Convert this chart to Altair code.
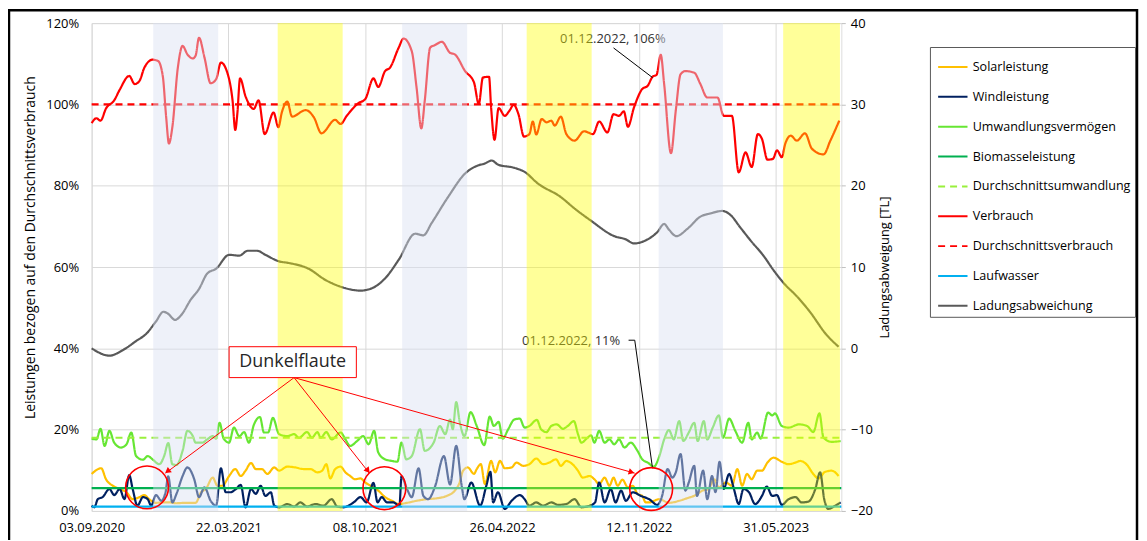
import altair as alt
import pandas as pd

START = pd.Timestamp("2020-09-03")
FONT = "Open Sans"

# ---------------- data (day offsets from 03.09.2020) ----------------
verbrauch_days = [0,7,13,21,33,41,55,63,70,77,89,97,104,109,113,118,126,133,140,148,
                  152,157,165,174,182,189,201,206,210,213,217,225,237,244,253,266,273,278,286,293,
                  313,325,336,356,364,373,390,400,412,419,429,436,449,456,468,475,482,487,495,502,
                  512,524,531,546,559,566,572,581,584,589,595,604,611,617,624,632,640,645,650,658,
                  665,672,677,686,694,706,720,733,742,754,763,771,778,784,793,805,813,820,826,832,
                  837,847,854,861,868,881,890,900,915,924,936,946,956,965,974,980,988,996,1002,1009,
                  1014,1022,1031,1043,1053,1070,1080,1093]
verbrauch_pct = [95.4,96.6,96.0,99.0,101.0,103.6,107.0,105.0,105.8,109.0,111.0,110.7,107.0,96.8,90.4,94.4,109.0,114.4,112.3,111.3,
                 112.0,116.4,111.5,105.2,106.2,110.3,106.2,101.0,93.7,97.7,106.4,102.0,98.9,101.0,92.7,98.0,94.4,98.0,100.7,97.0,
                 98.6,96.8,92.9,96.2,95.2,97.2,100.3,101.3,106.4,104.3,108.2,109.0,114.0,116.2,113.1,104.2,94.1,100.9,114.0,114.6,
                 115.4,112.7,112.3,108.2,105.4,100.1,106.6,106.8,99.3,91.3,99.1,97.2,98.5,99.9,97.6,92.1,92.7,95.8,92.6,96.4,
                 95.6,96.0,94.8,97.0,92.7,91.1,93.4,92.7,95.8,93.1,97.6,97.2,98.3,94.5,99.3,103.8,104.6,106.8,107.3,112.2,
                 105.0,88.0,98.5,107.4,108.2,107.8,105.0,101.7,101.7,97.2,97.2,83.3,88.2,84.6,92.7,91.5,86.4,86.6,88.7,87.0,
                 90.3,92.3,91.1,92.9,89.1,87.7,91.1,96.0]

ladung_days = [0,26,46,65,80,94,105,111,122,131,145,157,169,182,201,216,228,242,254,274,
               288,317,342,371,393,410,429,449,473,485,497,521,546,565,574,585,594,618,633,652,
               686,706,730,764,781,793,808,827,837,844,855,871,890,905,922,934,948,963,983,997,
               1012,1031,1050,1074,1092]
ladung_tl = [0.0,-0.9,-0.2,0.9,1.8,3.3,4.5,4.3,3.5,4.1,6.0,7.3,9.2,9.8,11.5,11.4,12.0,12.0,11.5,10.7,
             10.5,9.8,8.4,7.4,7.1,7.4,8.6,10.9,14.1,13.9,15.4,18.6,21.5,22.5,22.7,23.1,22.6,22.2,21.7,20.3,
             18.6,17.2,15.7,13.8,13.4,12.9,13.2,14.3,15.3,14.6,13.8,14.7,16.2,16.6,16.9,16.4,14.9,13.3,11.3,9.6,
             8.0,6.4,4.5,1.7,0.2]

umw_days = [0,7,13,19,26,33,43,51,58,65,75,82,89,99,106,112,118,124,133,140,
            148,152,162,169,177,182,187,193,201,208,216,223,230,237,246,252,258,265,274,286,
            296,303,315,322,330,335,343,351,364,371,378,388,397,405,413,419,429,439,447,453,
            460,468,480,487,500,509,517,524,528,533,538,545,554,563,574,582,588,595,601,609,
            618,626,633,640,651,657,665,672,680,689,696,705,711,716,725,730,735,742,750,757,
            764,771,779,788,798,805,813,822,830,837,844,851,859,865,873,881,886,895,900,908,
            917,923,932,941,951,960,965,973,978,989,995,999,1009,1019,1034,1046,1055,1064,1070,1082,
            1095]
umw_pct = [17.8,17.6,20.2,16.0,19.7,16.8,15.6,16.4,19.3,13.5,12.6,13.5,12.7,11.5,13.5,16.7,11.5,11.3,14.8,19.7,
           18.4,16.8,16.8,17.6,18.4,17.8,21.7,17.8,16.8,20.5,18.4,19.4,16.8,21.1,23.1,19.3,19.3,22.9,18.9,18.4,
           18.9,18.0,19.4,18.0,19.4,18.0,19.4,17.6,19.3,17.6,16.0,17.2,18.4,16.4,19.7,14.4,12.7,12.3,12.1,16.8,
           12.7,13.5,20.1,14.8,16.8,20.9,18.9,22.5,20.1,26.8,22.0,18.4,24.3,20.9,16.2,23.2,20.9,21.9,17.8,20.1,
           22.5,22.7,20.5,20.9,22.4,20.1,19.4,20.9,21.3,20.2,20.9,22.1,18.9,16.8,18.0,18.6,16.8,19.7,16.8,17.6,
           16.4,17.6,15.6,16.8,14.8,12.7,11.9,10.9,13.5,17.6,19.9,17.6,22.1,17.2,19.3,21.7,17.2,22.1,17.6,20.5,
           23.5,18.0,22.7,19.7,16.8,21.7,17.6,19.3,17.8,24.2,23.5,24.0,20.9,20.5,21.3,20.9,19.4,24.0,18.0,17.0,
           17.2]

solar_days = [0,14,21,31,41,51,60,70,77,84,94,104,114,123,138,152,160,167,177,184,
              191,201,210,218,225,233,240,249,257,267,274,286,298,310,320,330,337,343,349,356,
              364,371,378,385,393,400,410,419,429,439,449,461,475,490,504,519,531,538,543,550,
              559,563,569,575,584,590,597,604,614,621,631,640,650,660,669,679,686,694,703,711,
              718,728,735,742,750,757,763,769,776,784,791,798,805,810,815,830,844,859,870,883,
              893,902,910,917,927,936,944,951,958,965,973,980,988,997,1009,1019,1029,1036,1046,1055,
              1063,1072,1082,1092]
solar_pct = [9.1,10.5,7.8,6.2,5.4,4.6,2.9,3.4,3.9,2.9,2.0,2.1,2.1,1.9,2.0,2.0,4.6,5.4,8.2,6.2,
             6.2,8.6,10.3,8.6,9.9,11.8,10.3,10.3,9.1,10.7,9.9,10.9,10.7,10.3,10.3,9.5,9.9,11.5,8.0,10.3,
             10.9,9.5,8.6,7.8,8.0,7.0,6.0,5.0,3.4,2.5,1.7,2.0,2.5,2.9,3.1,3.7,5.0,7.0,9.9,10.7,
             9.1,10.3,11.5,6.6,12.3,9.5,12.3,10.5,10.7,11.9,11.1,11.5,12.9,11.5,11.9,12.7,11.1,12.3,11.5,9.9,
             8.2,8.6,7.8,6.6,8.2,6.2,8.2,6.2,7.7,5.8,6.2,4.2,3.7,2.1,2.1,2.9,2.0,2.5,3.1,3.9,
             5.0,5.4,7.8,5.8,7.0,6.2,10.3,6.2,9.1,7.8,9.9,9.9,11.9,13.1,12.1,11.5,11.9,12.3,11.3,9.1,
             8.0,9.6,9.9,8.6]

wind_days = [0,4,9,16,26,33,41,48,55,60,67,75,82,87,94,102,108,112,118,124,
             133,140,150,157,165,174,182,189,196,203,211,218,225,233,240,247,254,262,267,274,
             286,296,305,315,327,339,351,359,368,383,393,402,412,418,424,432,441,450,453,461,
             468,478,485,492,502,515,524,533,541,545,555,568,577,583,587,594,604,614,626,
             633,640,650,660,672,682,694,706,716,728,736,742,750,759,766,774,781,791,803,815,
             827,834,842,849,854,861,868,873,881,885,894,900,907,912,918,924,932,939,946,953,
             961,970,980,987,995,1002,1009,1019,1029,1038,1048,1058,1065,1071,1077,1087,1095]
wind_pct = [1.3,0.9,2.9,3.4,5.4,3.9,5.4,2.9,8.8,5.4,1.3,3.4,2.9,1.3,3.9,2.5,4.6,8.5,2.1,4.2,
            8.6,10.7,7.8,3.4,5.8,2.5,1.3,10.5,4.6,4.6,5.4,6.4,0.9,5.4,4.2,6.2,3.7,4.6,1.3,0.9,
            1.7,1.1,2.1,1.1,1.7,1.3,2.9,1.1,0.9,2.1,3.4,2.1,6.9,2.1,3.4,2.1,2.1,1.3,8.5,5.4,
            3.4,10.5,3.7,2.9,6.0,13.5,6.5,16.0,6.2,2.9,7.0,1.3,6.2,9.6,2.1,4.6,0.5,2.5,3.9,
            2.9,1.3,2.1,1.3,2.1,1.5,1.7,2.9,0.9,1.3,2.1,7.0,2.1,5.4,2.1,5.0,2.5,4.6,3.7,2.9,
            1.5,3.7,10.3,8.2,9.5,14.0,5.0,7.0,11.1,3.7,9.9,2.9,8.6,4.6,12.1,5.4,9.1,5.4,1.7,5.4,
            4.6,1.7,3.7,6.0,3.7,3.9,1.5,2.9,3.4,2.1,2.3,5.4,9.5,2.9,0.5,1.3,2.1]

const_days = [0, 1096]
biomasse_pct = [5.6, 5.6]
laufwasser_pct = [1.05, 1.05]
avg_umw_pct = [18.0, 18.0]
avg_verbrauch_pct = [100.0, 100.0]

winter_start = [90, 454, 829]
winter_end = [185, 549, 923]
summer_start = [272, 636, 1011]
summer_end = [367, 731, 1094]

tick_days = [0, 200, 400, 600, 800, 1000]

SERIES = ["Solarleistung", "Windleistung", "Umwandlungsvermögen", "Biomasseleistung",
          "Durchschnittsumwandlung", "Verbrauch", "Durchschnittsverbrauch", "Laufwasser",
          "Ladungsabweichung"]
COLORS = ["#FFC000", "#002060", "#66E633", "#00B050", "#99F03C", "#FF0000", "#FF0000",
          "#00B0F0", "#595959"]
DASHES = [[1, 0], [1, 0], [1, 0], [1, 0], [7, 5], [1, 0], [7, 5], [1, 0], [1, 0]]

# annotations (day offset, percent)
circle_days = [81, 428, 818]
circle_pct = [5.8, 5.6, 5.4]
arrow_from = (296, 32.8)
arrow_tip_days = [108, 406, 794]
arrow_tip_pct = [9.3, 9.3, 9.3]
head_days = [112, 403, 788]
head_pct = [9.9, 10.1, 9.6]
head_angle = [233, 142, 106]
box_days = (201, 387)
box_pct = (32.8, 40.4)
box_text_pos = (294, 36.6)
note_labels = ["01.12.2022, 106%", "01.12.2022, 11%"]
note_days = [762, 701]
note_pct = [116.2, 41.7]
leader_grp = [1, 1, 2, 2, 2]
leader_days = [763, 820, 785, 794, 820]
leader_pct = [113.9, 106.6, 42.0, 42.0, 10.5]


def d2s(days):
    return [(START + pd.Timedelta(days=int(d))).strftime("%Y-%m-%d") for d in days]


def dt(d):
    t = START + pd.Timedelta(days=int(d))
    return alt.DateTime(year=t.year, month=t.month, date=t.day, utc=True)


rows = []
def add(name, days, vals):
    for d, v in zip(d2s(days), vals):
        rows.append({"series": name, "date": d, "value": v})

add("Solarleistung", solar_days, solar_pct)
add("Windleistung", wind_days, wind_pct)
add("Umwandlungsvermögen", umw_days, umw_pct)
add("Biomasseleistung", const_days, biomasse_pct)
add("Durchschnittsumwandlung", const_days, avg_umw_pct)
add("Verbrauch", verbrauch_days, verbrauch_pct)
add("Durchschnittsverbrauch", const_days, avg_verbrauch_pct)
add("Laufwasser", const_days, laufwasser_pct)
left_df = pd.DataFrame(rows)
right_df = pd.DataFrame({"series": "Ladungsabweichung", "date": d2s(ladung_days), "value": ladung_tl})

# ---------------- scales / axes ----------------
X_SCALE = alt.Scale(type="utc", domain=[dt(0), dt(1096)])
X_AXIS = alt.Axis(values=[dt(d) for d in tick_days], format="%d.%m.%Y", grid=True,
                  gridColor="#D9D9D9", ticks=False, domain=False, labelPadding=11,
                  labelFont=FONT, labelFontSize=13, labelColor="#000000", title=None,
                  labelFlush=False, labelOverlap=False)
PCT_SCALE = alt.Scale(domain=[0, 120], nice=False, zero=False)


def xenc(field="date"):
    return alt.X(f"{field}:T", scale=X_SCALE, axis=X_AXIS)


LEG = dict(title=None, orient="none", legendX=842, legendY=24, symbolType="stroke",
           symbolSize=870, symbolStrokeWidth=2, labelFont=FONT, labelFontSize=12.6,
           labelColor="#000000", padding=4, symbolOffset=3, labelOffset=4, rowPadding=7,
           strokeColor="#595959", fillColor="#FFFFFF", labelLimit=400)
color = alt.Color("series:N", scale=alt.Scale(domain=SERIES, range=COLORS), legend=alt.Legend(**LEG))
dash = alt.StrokeDash("series:N", scale=alt.Scale(domain=SERIES, range=DASHES), legend=alt.Legend(**LEG))

left_lines = alt.Chart(left_df).mark_line(interpolate="monotone", strokeWidth=2.2).encode(
    x=xenc(),
    y=alt.Y("value:Q", scale=PCT_SCALE,
            axis=alt.Axis(values=list(range(0, 121, 20)), labelExpr="datum.value + '%'",
                          grid=True, gridColor="#D9D9D9", ticks=False, domain=False,
                          labelPadding=13, labelFont=FONT, labelFontSize=13, labelColor="#000000",
                          title="Leistungen bezogen auf den Durchschnittsverbrauch",
                          titleFont=FONT, titleFontSize=14, titleFontWeight="normal",
                          titleColor="#000000", titleAngle=270, titleX=-54, titleY=225,
                          titleAlign="center", titleBaseline="bottom")),
    color=color, strokeDash=dash,
)

right_line = alt.Chart(right_df).mark_line(interpolate="monotone", strokeWidth=2.2).encode(
    x=xenc(),
    y=alt.Y("value:Q", scale=alt.Scale(domain=[-20, 40], nice=False, zero=False),
            axis=alt.Axis(orient="right", values=list(range(-20, 41, 10)), grid=False,
                          ticks=True, tickSize=4, tickColor="#BFBFBF", domain=False,
                          labelPadding=5, labelFont=FONT, labelFontSize=13, labelColor="#000000",
                          title="Ladungsabweigung [TL]", titleFont=FONT, titleFontSize=13,
                          titleFontWeight="normal", titleColor="#000000", titleAngle=270,
                          titleX=50, titleY=245, titleAlign="center", titleBaseline="bottom")),
    color=color, strokeDash=dash,
)

# notes (drawn below the season bands)
notes_df = pd.DataFrame({"label": note_labels, "date": d2s(note_days), "pct": note_pct})
notes = alt.Chart(notes_df).mark_text(font=FONT, fontSize=13, color="#333333").encode(
    x=xenc(), y=alt.Y("pct:Q", scale=PCT_SCALE, axis=None), text="label:N")
leader_df = pd.DataFrame({"grp": leader_grp, "date": d2s(leader_days), "pct": leader_pct,
                          "ord": list(range(len(leader_days)))})
leaders = alt.Chart(leader_df).mark_line(color="#000000", strokeWidth=1).encode(
    x=xenc(), y=alt.Y("pct:Q", scale=PCT_SCALE, axis=None), detail="grp:N", order="ord:Q")
notes_layer = alt.layer(notes, leaders)

# season bands (semi-transparent overlays)
winter_df = pd.DataFrame({"start": d2s(winter_start), "end": d2s(winter_end)})
summer_df = pd.DataFrame({"start": d2s(summer_start), "end": d2s(summer_end)})
winter = alt.Chart(winter_df).mark_rect(color="#D9E1F2", opacity=0.45).encode(
    x=xenc("start"), x2="end:T")
summer = alt.Chart(summer_df).mark_rect(color="#FFFF00", opacity=0.4).encode(
    x=xenc("start"), x2="end:T")

# Dunkelflaute annotation
arrow_df = pd.DataFrame({"d1": d2s([arrow_from[0]] * 3), "p1": [arrow_from[1]] * 3,
                         "d2": d2s(arrow_tip_days), "p2": arrow_tip_pct})
arrows = alt.Chart(arrow_df).mark_rule(color="#FF0000", strokeWidth=1).encode(
    x=xenc("d1"), x2="d2:T", y=alt.Y("p1:Q", scale=PCT_SCALE, axis=None), y2="p2:Q")
head_df = pd.DataFrame({"date": d2s(head_days), "pct": head_pct, "ang": head_angle})
heads = alt.Chart(head_df).mark_point(shape="triangle", filled=True, size=45, color="#FF0000",
                                      opacity=1).encode(
    x=xenc(), y=alt.Y("pct:Q", scale=PCT_SCALE, axis=None), angle=alt.Angle("ang:Q", scale=None))
circ_df = pd.DataFrame({"date": d2s(circle_days), "pct": circle_pct})
circles = alt.Chart(circ_df).mark_point(shape="circle", filled=False, size=1850, strokeWidth=1.6,
                                        color="#FF0000", opacity=1).encode(
    x=xenc(), y=alt.Y("pct:Q", scale=PCT_SCALE, axis=None))
box_df = pd.DataFrame({"d1": d2s([box_days[0]]), "d2": d2s([box_days[1]]),
                       "p1": [box_pct[0]], "p2": [box_pct[1]]})
box = alt.Chart(box_df).mark_rect(fill="#FFFFFF", stroke="#FF0000", strokeWidth=1).encode(
    x=xenc("d1"), x2="d2:T", y=alt.Y("p1:Q", scale=PCT_SCALE, axis=None), y2="p2:Q")
box_text_df = pd.DataFrame({"date": d2s([box_text_pos[0]]), "pct": [box_text_pos[1]],
                            "label": ["Dunkelflaute"]})
box_text = alt.Chart(box_text_df).mark_text(font=FONT, fontSize=18, color="#262626").encode(
    x=xenc(), y=alt.Y("pct:Q", scale=PCT_SCALE, axis=None), text="label:N")
annot_layer = alt.layer(arrows, heads, circles, box, box_text)

frame = alt.Chart(pd.DataFrame({"a": [0]})).mark_rect(
    fillOpacity=0, stroke="#000000", strokeWidth=2.5).encode(
    x=alt.value(-83), x2=alt.value(1050), y=alt.value(-13), y2=alt.value(540))

chart = alt.layer(
    left_lines, right_line, notes_layer, winter, summer, annot_layer, frame
).resolve_scale(y="independent").properties(
    width=753, height=490,
    autosize=alt.AutoSizeParams(type="none"),
    padding={"left": 84, "top": 14, "right": 299, "bottom": 28},
    background="#FFFFFF",
).configure_view(stroke="#D9D9D9").configure(font=FONT)

chart.save("out.html", embed_options={"renderer": "svg", "actions": False})
